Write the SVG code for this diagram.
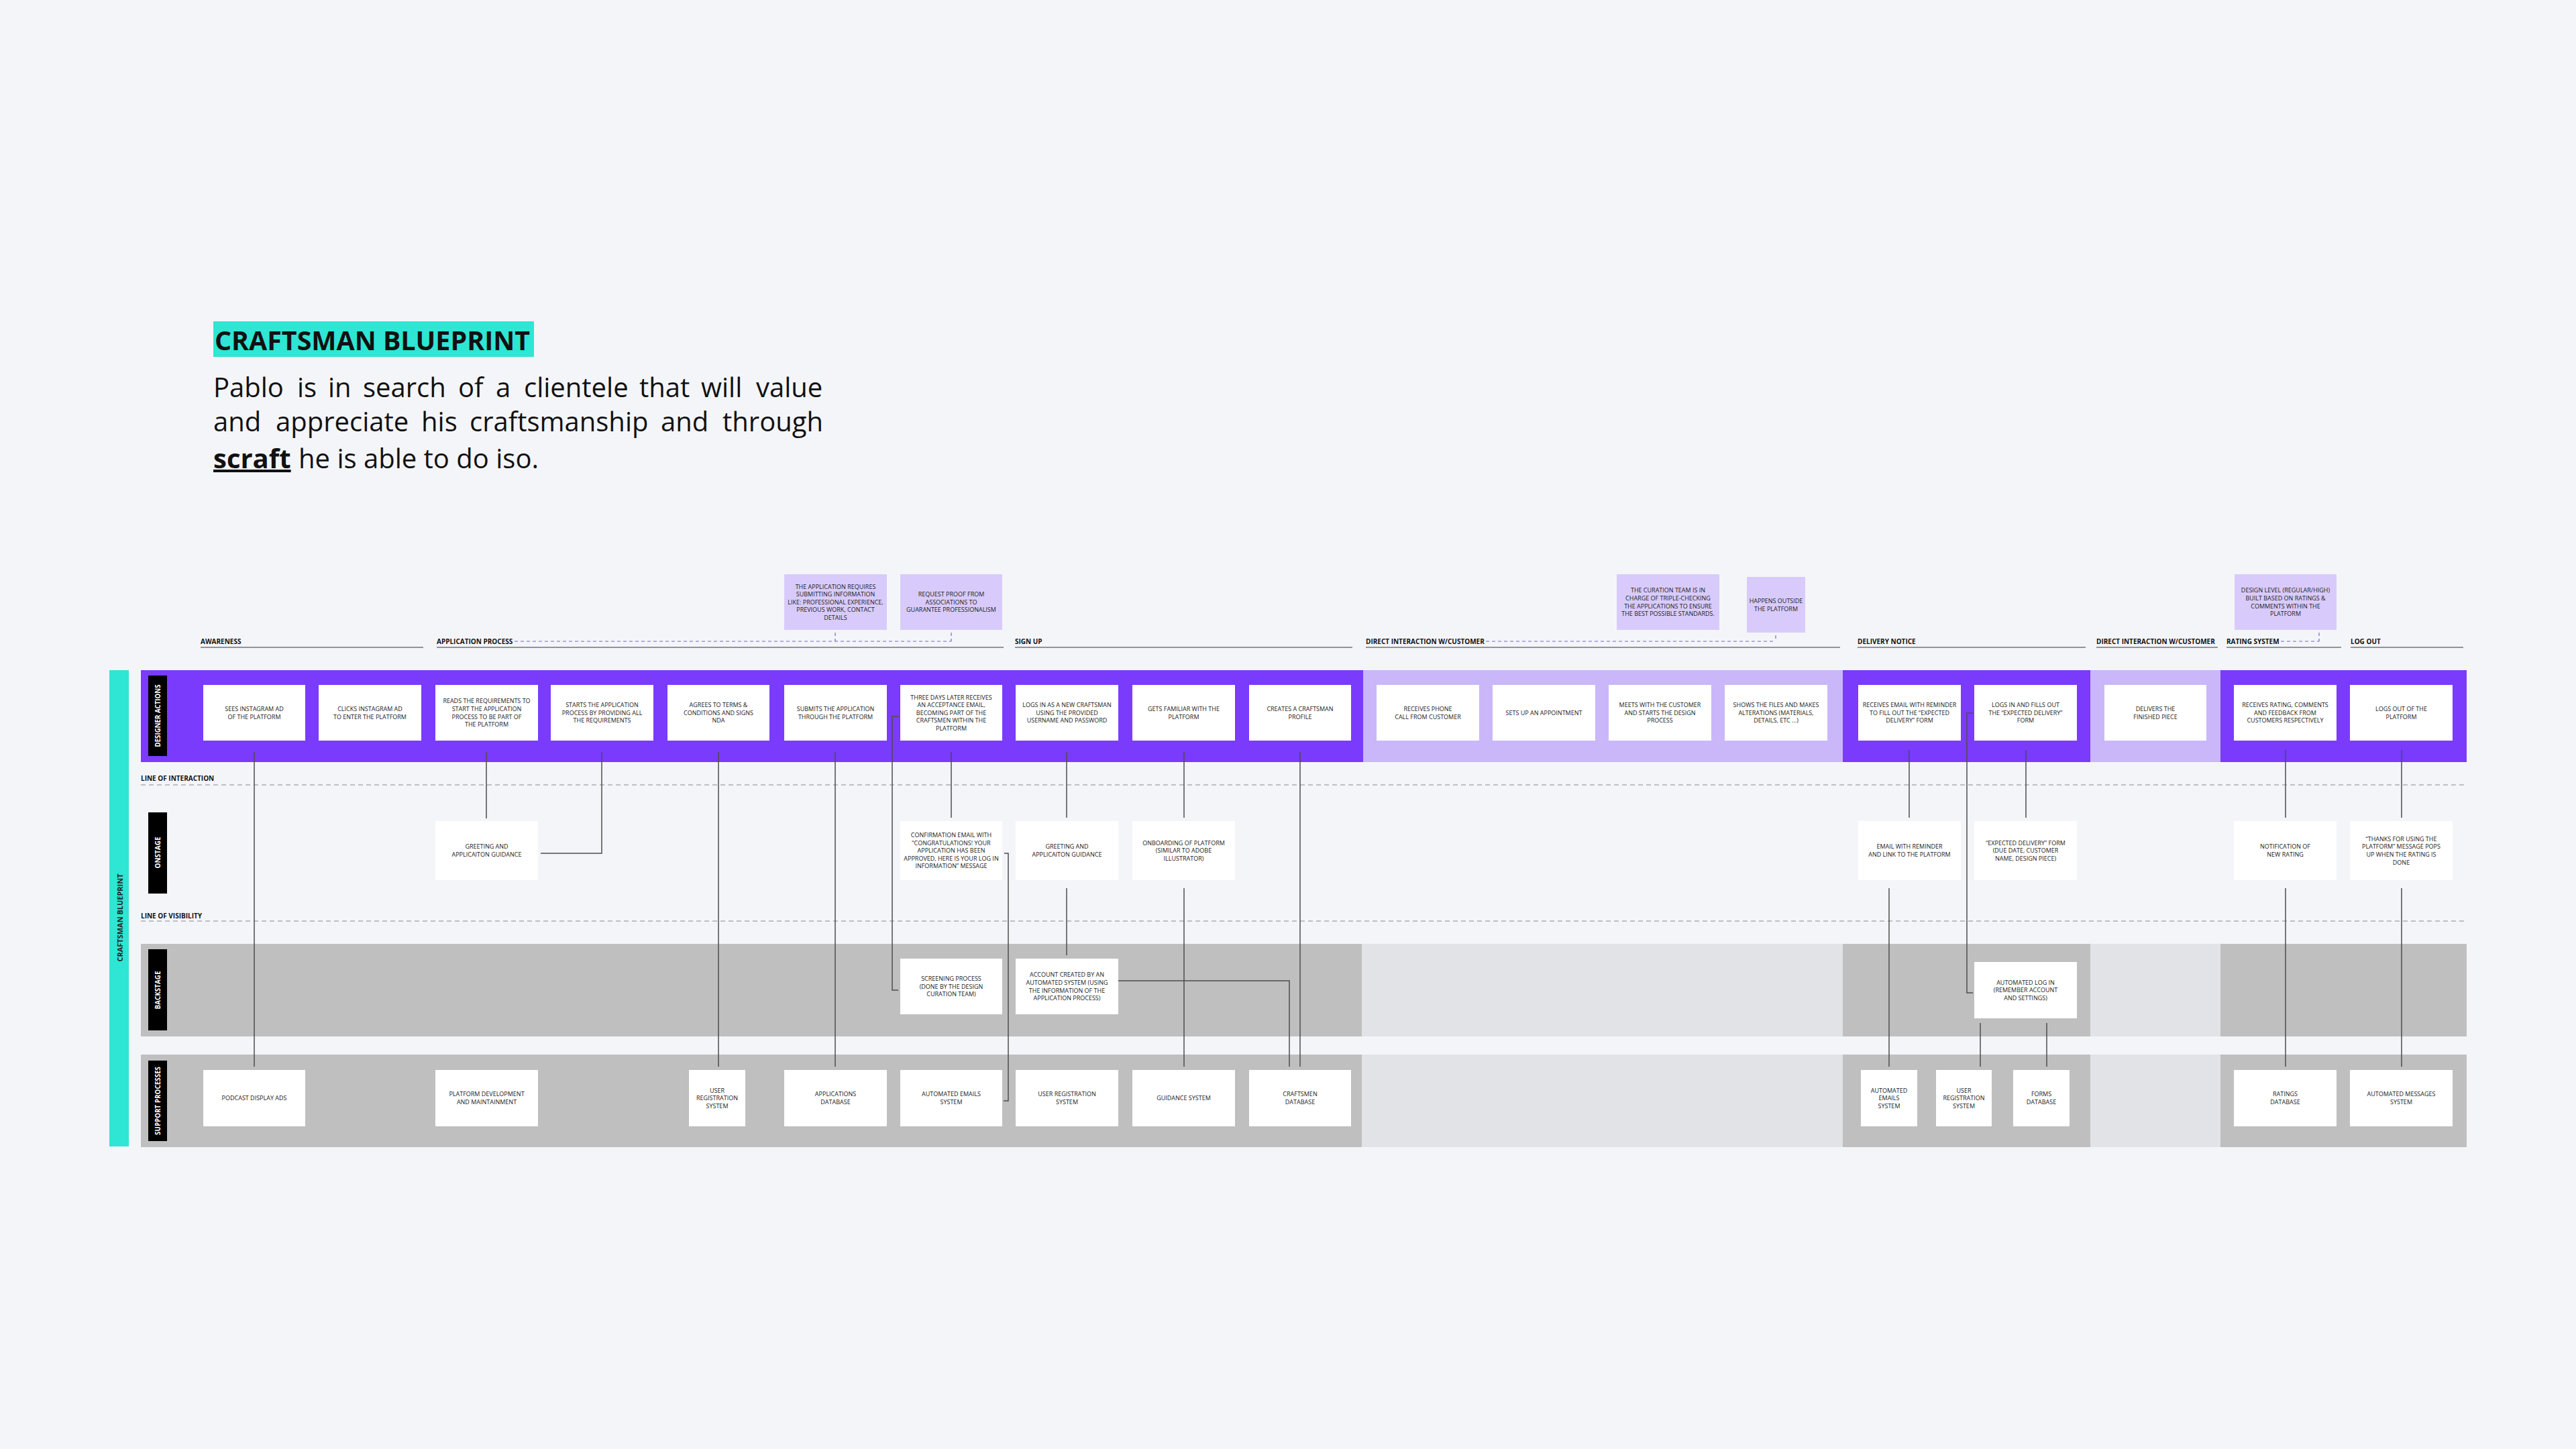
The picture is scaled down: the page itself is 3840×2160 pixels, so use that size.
<svg xmlns="http://www.w3.org/2000/svg" width="3840" height="2160" viewBox="0 0 3840 2160">
<style>
.bg{fill:#f4f5f9}
.bx{fill:#ffffff}
.note{fill:#d8cbfb}
.t{font-family:'Open Sans','Noto Sans','Liberation Sans',sans-serif;font-size:9px;fill:#222;text-anchor:middle}
.stage{font-family:'Open Sans','Noto Sans','Liberation Sans',sans-serif;font-size:10px;font-weight:bold;fill:#111}
.lane{font-family:'Open Sans','Noto Sans','Liberation Sans',sans-serif;font-size:10.5px;font-weight:bold;fill:#fff;text-anchor:middle}
.ul{stroke:#333;stroke-width:1.2}
.pd{stroke:#7b5cf0;stroke-width:1.2;stroke-dasharray:5 4;fill:none}
.gd{stroke:#8a8a8a;stroke-width:1.2;stroke-dasharray:7 5}
.cn{stroke:#4d4d4d;stroke-width:1.5;fill:none}
.dk{fill:#7a3bfd}
.lt{fill:#c9b7fa}
.gr{fill:#bfbfbf}
.lg{fill:#e2e3e7}
.head{font-family:'Open Sans','Noto Sans','Liberation Sans',sans-serif;font-size:40px;fill:#111}
</style>
<rect class="bg" x="0" y="0" width="3840" height="2160"/>

<g id="header">
<rect x="318" y="479" width="478" height="53" fill="#2ee6d3"/>
<text class="head" x="320" y="522" font-weight="bold" textLength="470" lengthAdjust="spacingAndGlyphs">CRAFTSMAN BLUEPRINT</text>
<text class="head" y="592"><tspan x="318">Pablo</tspan><tspan x="443">is</tspan><tspan x="489">in</tspan><tspan x="541">search</tspan><tspan x="683">of</tspan><tspan x="739">a</tspan><tspan x="781">clientele</tspan><tspan x="953">that</tspan><tspan x="1045">will</tspan><tspan x="1127">value</tspan></text>
<text class="head" y="643"><tspan x="318">and</tspan><tspan x="411">appreciate</tspan><tspan x="628">his</tspan><tspan x="700">craftsmanship</tspan><tspan x="985">and</tspan><tspan x="1077">through</tspan></text>
<text class="head" y="698"><tspan x="318" font-weight="bold" text-decoration="underline">scraft</tspan><tspan x="445">he is able to do iso.</tspan></text>
</g>

<g id="lanes">
<rect x="163" y="999" width="29" height="710" fill="#2ee6d3"/>
<text x="179" y="1372" transform="rotate(-90 179 1368)" font-family="'Open Sans','Noto Sans',sans-serif" font-size="11" font-weight="bold" fill="#222" text-anchor="middle" textLength="131" lengthAdjust="spacingAndGlyphs">CRAFTSMAN BLUEPRINT</text>
<rect class="dk" x="210" y="999" width="1822" height="137"/>
<rect class="lt" x="2032" y="999" width="715" height="137"/>
<rect class="dk" x="2747" y="999" width="369" height="137"/>
<rect class="lt" x="3116" y="999" width="194" height="137"/>
<rect class="dk" x="3310" y="999" width="367" height="137"/>
<rect class="gr" x="210" y="1407" width="1820" height="138"/>
<rect class="lg" x="2030" y="1407" width="717" height="138"/>
<rect class="gr" x="2747" y="1407" width="369" height="138"/>
<rect class="lg" x="3116" y="1407" width="194" height="138"/>
<rect class="gr" x="3310" y="1407" width="367" height="138"/>
<rect class="gr" x="210" y="1572" width="1820" height="138"/>
<rect class="lg" x="2030" y="1572" width="717" height="138"/>
<rect class="gr" x="2747" y="1572" width="369" height="138"/>
<rect class="lg" x="3116" y="1572" width="194" height="138"/>
<rect class="gr" x="3310" y="1572" width="367" height="138"/>
<rect x="221" y="1007" width="28" height="120" fill="#000"/>
<rect x="221" y="1211" width="28" height="121" fill="#000"/>
<rect x="221" y="1415" width="28" height="121" fill="#000"/>
<rect x="221" y="1581" width="28" height="120" fill="#000"/>
<text class="lane" x="235" y="1071" transform="rotate(-90 235 1067)" textLength="93" lengthAdjust="spacingAndGlyphs">DESIGNER ACTIONS</text>
<text class="lane" x="235" y="1275" transform="rotate(-90 235 1271)" textLength="47" lengthAdjust="spacingAndGlyphs">ONSTAGE</text>
<text class="lane" x="235" y="1480" transform="rotate(-90 235 1476)" textLength="57" lengthAdjust="spacingAndGlyphs">BACKSTAGE</text>
<text class="lane" x="235" y="1645" transform="rotate(-90 235 1641)" textLength="102" lengthAdjust="spacingAndGlyphs">SUPPORT PROCESSES</text>
<text class="stage" x="210" y="1164" font-size="9.5">LINE OF INTERACTION</text>
<line class="gd" x1="210" y1="1170" x2="3677" y2="1170"/>
<text class="stage" x="210" y="1369" font-size="9.5">LINE OF VISIBILITY</text>
<line class="gd" x1="210" y1="1373" x2="3677" y2="1373"/>
</g>

<g id="stages">
<text class="stage" x="299" y="960">AWARENESS</text><line class="ul" x1="299" y1="965" x2="631" y2="965"/>
<text class="stage" x="651" y="960">APPLICATION PROCESS</text><line class="ul" x1="651" y1="965" x2="1496" y2="965"/>
<text class="stage" x="1513" y="960">SIGN UP</text><line class="ul" x1="1513" y1="965" x2="2016" y2="965"/>
<text class="stage" x="2036" y="960">DIRECT INTERACTION W/CUSTOMER</text><line class="ul" x1="2036" y1="965" x2="2743" y2="965"/>
<text class="stage" x="2769" y="960">DELIVERY NOTICE</text><line class="ul" x1="2769" y1="965" x2="3109" y2="965"/>
<text class="stage" x="3125" y="960">DIRECT INTERACTION W/CUSTOMER</text><line class="ul" x1="3125" y1="965" x2="3306" y2="965"/>
<text class="stage" x="3319" y="960">RATING SYSTEM</text><line class="ul" x1="3319" y1="965" x2="3490" y2="965"/>
<text class="stage" x="3504" y="960">LOG OUT</text><line class="ul" x1="3504" y1="965" x2="3672" y2="965"/>
</g>

<g id="notes">
<g id="note1"><rect class="note" x="1169" y="856" width="153" height="83"/><text class="t" x="1245.5" y="877.5"><tspan x="1245.5">THE APPLICATION REQUIRES</tspan><tspan x="1245.5" dy="11.6">SUBMITTING INFORMATION</tspan><tspan x="1245.5" dy="11.6">LIKE: PROFESSIONAL EXPERIENCE,</tspan><tspan x="1245.5" dy="11.6">PREVIOUS WORK, CONTACT</tspan><tspan x="1245.5" dy="11.6">DETAILS</tspan></text></g>
<g id="note2"><rect class="note" x="1342" y="856" width="152" height="83"/><text class="t" x="1418" y="889.1"><tspan x="1418">REQUEST PROOF FROM</tspan><tspan x="1418" dy="11.6">ASSOCIATIONS TO</tspan><tspan x="1418" dy="11.6">GUARANTEE PROFESSIONALISM</tspan></text></g>
<g id="note3"><rect class="note" x="2410" y="856" width="153" height="83"/><text class="t" x="2486.5" y="883.3"><tspan x="2486.5">THE CURATION TEAM IS IN</tspan><tspan x="2486.5" dy="11.6">CHARGE OF TRIPLE-CHECKING</tspan><tspan x="2486.5" dy="11.6">THE APPLICATIONS TO ENSURE</tspan><tspan x="2486.5" dy="11.6">THE BEST POSSIBLE STANDARDS.</tspan></text></g>
<g id="note4"><rect class="note" x="2604" y="860" width="87" height="83"/><text class="t" x="2647.5" y="898.9" font-size="8"><tspan x="2647.5">HAPPENS OUTSIDE</tspan><tspan x="2647.5" dy="11.6">THE PLATFORM</tspan></text></g>
<g id="note5"><rect class="note" x="3331" y="856" width="152" height="83"/><text class="t" x="3407" y="883.3"><tspan x="3407">DESIGN LEVEL (REGULAR/HIGH)</tspan><tspan x="3407" dy="11.6">BUILT BASED ON RATINGS &amp;</tspan><tspan x="3407" dy="11.6">COMMENTS WITHIN THE</tspan><tspan x="3407" dy="11.6">PLATFORM</tspan></text></g>
<path class="pd" d="M767 956 H1418 M1245 943 V956 M1418 943 V956 M2215 956 H2647 M2647 947 V956 M3400 956 H3457 M3457 943 V956"/>
</g>

<g id="connectors">
<path class="cn" d="M379 1121 V1590"/>
<path class="cn" d="M725 1121 V1220"/>
<path class="cn" d="M897 1121 V1272 H806"/>
<path class="cn" d="M1071 1121 V1590"/>
<path class="cn" d="M1245 1121 V1590"/>
<path class="cn" d="M1418 1121 V1219"/>
<path class="cn" d="M1340 1068 H1330 V1476 H1339"/>
<path class="cn" d="M1497 1272 H1503 V1641 H1496"/>
<path class="cn" d="M1590 1121 V1219"/>
<path class="cn" d="M1590 1324 V1424"/>
<path class="cn" d="M1765 1121 V1219"/>
<path class="cn" d="M1765 1324 V1590"/>
<path class="cn" d="M1938 1121 V1590"/>
<path class="cn" d="M1667 1462 H1922 V1590"/>
<path class="cn" d="M2846 1118 V1219"/>
<path class="cn" d="M3020 1118 V1219"/>
<path class="cn" d="M2941 1063 H2932 V1480 H2941"/>
<path class="cn" d="M2816 1324 V1590"/>
<path class="cn" d="M2952 1525 V1590"/>
<path class="cn" d="M3051 1525 V1590"/>
<path class="cn" d="M3407 1118 V1219"/>
<path class="cn" d="M3407 1324 V1590"/>
<path class="cn" d="M3580 1118 V1219"/>
<path class="cn" d="M3580 1324 V1590"/>
</g>

<g id="actions">
<g id="a1"><rect class="bx" x="303" y="1021" width="152" height="83"/><text class="t" x="379" y="1059.9"><tspan x="379">SEES INSTAGRAM AD</tspan><tspan x="379" dy="11.6">OF THE PLATFORM</tspan></text></g>
<g id="a2"><rect class="bx" x="475" y="1021" width="153" height="83"/><text class="t" x="551.5" y="1059.9"><tspan x="551.5">CLICKS INSTAGRAM AD</tspan><tspan x="551.5" dy="11.6">TO ENTER THE PLATFORM</tspan></text></g>
<g id="a3"><rect class="bx" x="649" y="1021" width="153" height="83"/><text class="t" x="725.5" y="1048.3"><tspan x="725.5">READS THE REQUIREMENTS TO</tspan><tspan x="725.5" dy="11.6">START THE APPLICATION</tspan><tspan x="725.5" dy="11.6">PROCESS TO BE PART OF</tspan><tspan x="725.5" dy="11.6">THE PLATFORM</tspan></text></g>
<g id="a4"><rect class="bx" x="821" y="1021" width="153" height="83"/><text class="t" x="897.5" y="1054.1"><tspan x="897.5">STARTS THE APPLICATION</tspan><tspan x="897.5" dy="11.6">PROCESS BY PROVIDING ALL</tspan><tspan x="897.5" dy="11.6">THE REQUIREMENTS</tspan></text></g>
<g id="a5"><rect class="bx" x="995" y="1021" width="152" height="83"/><text class="t" x="1071" y="1054.1"><tspan x="1071">AGREES TO TERMS &amp;</tspan><tspan x="1071" dy="11.6">CONDITIONS AND SIGNS</tspan><tspan x="1071" dy="11.6">NDA</tspan></text></g>
<g id="a6"><rect class="bx" x="1169" y="1021" width="153" height="83"/><text class="t" x="1245.5" y="1059.9"><tspan x="1245.5">SUBMITS THE APPLICATION</tspan><tspan x="1245.5" dy="11.6">THROUGH THE PLATFORM</tspan></text></g>
<g id="a7"><rect class="bx" x="1342" y="1021" width="152" height="83"/><text class="t" x="1418" y="1042.5"><tspan x="1418">THREE DAYS LATER RECEIVES</tspan><tspan x="1418" dy="11.6">AN ACCEPTANCE EMAIL,</tspan><tspan x="1418" dy="11.6">BECOMING PART OF THE</tspan><tspan x="1418" dy="11.6">CRAFTSMEN WITHIN THE</tspan><tspan x="1418" dy="11.6">PLATFORM</tspan></text></g>
<g id="a8"><rect class="bx" x="1514" y="1021" width="153" height="83"/><text class="t" x="1590.5" y="1054.1"><tspan x="1590.5">LOGS IN AS A NEW CRAFTSMAN</tspan><tspan x="1590.5" dy="11.6">USING THE PROVIDED</tspan><tspan x="1590.5" dy="11.6">USERNAME AND PASSWORD</tspan></text></g>
<g id="a9"><rect class="bx" x="1688" y="1021" width="153" height="83"/><text class="t" x="1764.5" y="1059.9"><tspan x="1764.5">GETS FAMILIAR WITH THE</tspan><tspan x="1764.5" dy="11.6">PLATFORM</tspan></text></g>
<g id="a10"><rect class="bx" x="1862" y="1021" width="152" height="83"/><text class="t" x="1938" y="1059.9"><tspan x="1938">CREATES A CRAFTSMAN</tspan><tspan x="1938" dy="11.6">PROFILE</tspan></text></g>
<g id="a11"><rect class="bx" x="2052" y="1021" width="153" height="83"/><text class="t" x="2128.5" y="1059.9"><tspan x="2128.5">RECEIVES PHONE</tspan><tspan x="2128.5" dy="11.6">CALL FROM CUSTOMER</tspan></text></g>
<g id="a12"><rect class="bx" x="2225" y="1021" width="153" height="83"/><text class="t" x="2301.5" y="1065.7">SETS UP AN APPOINTMENT</text></g>
<g id="a13"><rect class="bx" x="2398" y="1021" width="153" height="83"/><text class="t" x="2474.5" y="1054.1"><tspan x="2474.5">MEETS WITH THE CUSTOMER</tspan><tspan x="2474.5" dy="11.6">AND STARTS THE DESIGN</tspan><tspan x="2474.5" dy="11.6">PROCESS</tspan></text></g>
<g id="a14"><rect class="bx" x="2571" y="1021" width="153" height="83"/><text class="t" x="2647.5" y="1054.1"><tspan x="2647.5">SHOWS THE FILES AND MAKES</tspan><tspan x="2647.5" dy="11.6">ALTERATIONS (MATERIALS,</tspan><tspan x="2647.5" dy="11.6">DETAILS, ETC ...)</tspan></text></g>
<g id="a15"><rect class="bx" x="2770" y="1021" width="153" height="83"/><text class="t" x="2846.5" y="1054.1"><tspan x="2846.5">RECEIVES EMAIL WITH REMINDER</tspan><tspan x="2846.5" dy="11.6">TO FILL OUT THE “EXPECTED</tspan><tspan x="2846.5" dy="11.6">DELIVERY” FORM</tspan></text></g>
<g id="a16"><rect class="bx" x="2943" y="1021" width="153" height="83"/><text class="t" x="3019.5" y="1054.1"><tspan x="3019.5">LOGS IN AND FILLS OUT</tspan><tspan x="3019.5" dy="11.6">THE “EXPECTED DELIVERY”</tspan><tspan x="3019.5" dy="11.6">FORM</tspan></text></g>
<g id="a17"><rect class="bx" x="3137" y="1021" width="152" height="83"/><text class="t" x="3213" y="1059.9"><tspan x="3213">DELIVERS THE</tspan><tspan x="3213" dy="11.6">FINISHED PIECE</tspan></text></g>
<g id="a18"><rect class="bx" x="3330" y="1021" width="153" height="83"/><text class="t" x="3406.5" y="1054.1"><tspan x="3406.5">RECEIVES RATING, COMMENTS</tspan><tspan x="3406.5" dy="11.6">AND FEEDBACK FROM</tspan><tspan x="3406.5" dy="11.6">CUSTOMERS RESPECTIVELY</tspan></text></g>
<g id="a19"><rect class="bx" x="3503" y="1021" width="153" height="83"/><text class="t" x="3579.5" y="1059.9"><tspan x="3579.5">LOGS OUT OF THE</tspan><tspan x="3579.5" dy="11.6">PLATFORM</tspan></text></g>
</g>

<g id="onstage">
<g id="o1"><rect class="bx" x="649" y="1224" width="153" height="88"/><text class="t" x="725.5" y="1265.4"><tspan x="725.5">GREETING AND</tspan><tspan x="725.5" dy="11.6">APPLICAITON GUIDANCE</tspan></text></g>
<g id="o2"><rect class="bx" x="1342" y="1224" width="152" height="88"/><text class="t" x="1418" y="1248"><tspan x="1418">CONFIRMATION EMAIL WITH</tspan><tspan x="1418" dy="11.6">“CONGRATULATIONS! YOUR</tspan><tspan x="1418" dy="11.6">APPLICATION HAS BEEN</tspan><tspan x="1418" dy="11.6">APPROVED, HERE IS YOUR LOG IN</tspan><tspan x="1418" dy="11.6">INFORMATION” MESSAGE</tspan></text></g>
<g id="o3"><rect class="bx" x="1514" y="1224" width="153" height="88"/><text class="t" x="1590.5" y="1265.4"><tspan x="1590.5">GREETING AND</tspan><tspan x="1590.5" dy="11.6">APPLICAITON GUIDANCE</tspan></text></g>
<g id="o4"><rect class="bx" x="1688" y="1224" width="153" height="88"/><text class="t" x="1764.5" y="1259.6"><tspan x="1764.5">ONBOARDING OF PLATFORM</tspan><tspan x="1764.5" dy="11.6">(SIMILAR TO ADOBE</tspan><tspan x="1764.5" dy="11.6">ILLUSTRATOR)</tspan></text></g>
<g id="o5"><rect class="bx" x="2770" y="1224" width="153" height="88"/><text class="t" x="2846.5" y="1265.4"><tspan x="2846.5">EMAIL WITH REMINDER</tspan><tspan x="2846.5" dy="11.6">AND LINK TO THE PLATFORM</tspan></text></g>
<g id="o6"><rect class="bx" x="2943" y="1224" width="153" height="88"/><text class="t" x="3019.5" y="1259.6"><tspan x="3019.5">“EXPECTED DELIVERY” FORM</tspan><tspan x="3019.5" dy="11.6">(DUE DATE, CUSTOMER</tspan><tspan x="3019.5" dy="11.6">NAME, DESIGN PIECE)</tspan></text></g>
<g id="o7"><rect class="bx" x="3330" y="1224" width="153" height="88"/><text class="t" x="3406.5" y="1265.4"><tspan x="3406.5">NOTIFICATION OF</tspan><tspan x="3406.5" dy="11.6">NEW RATING</tspan></text></g>
<g id="o8"><rect class="bx" x="3503" y="1224" width="153" height="88"/><text class="t" x="3579.5" y="1253.8"><tspan x="3579.5">“THANKS FOR USING THE</tspan><tspan x="3579.5" dy="11.6">PLATFORM” MESSAGE POPS</tspan><tspan x="3579.5" dy="11.6">UP WHEN THE RATING IS</tspan><tspan x="3579.5" dy="11.6">DONE</tspan></text></g>
</g>

<g id="backstage">
<g id="b1"><rect class="bx" x="1342" y="1429" width="152" height="83"/><text class="t" x="1418" y="1462.1"><tspan x="1418">SCREENING PROCESS</tspan><tspan x="1418" dy="11.6">(DONE BY THE DESIGN</tspan><tspan x="1418" dy="11.6">CURATION TEAM)</tspan></text></g>
<g id="b2"><rect class="bx" x="1514" y="1429" width="153" height="83"/><text class="t" x="1590.5" y="1456.3"><tspan x="1590.5">ACCOUNT CREATED BY AN</tspan><tspan x="1590.5" dy="11.6">AUTOMATED SYSTEM (USING</tspan><tspan x="1590.5" dy="11.6">THE INFORMATION OF THE</tspan><tspan x="1590.5" dy="11.6">APPLICATION PROCESS)</tspan></text></g>
<g id="b3"><rect class="bx" x="2943" y="1434" width="153" height="84"/><text class="t" x="3019.5" y="1467.6"><tspan x="3019.5">AUTOMATED LOG IN</tspan><tspan x="3019.5" dy="11.6">(REMEMBER ACCOUNT</tspan><tspan x="3019.5" dy="11.6">AND SETTINGS)</tspan></text></g>
</g>

<g id="support">
<g id="s1"><rect class="bx" x="303" y="1595" width="152" height="84"/><text class="t" x="379" y="1640.2">PODCAST DISPLAY ADS</text></g>
<g id="s2"><rect class="bx" x="649" y="1595" width="153" height="84"/><text class="t" x="725.5" y="1634.4"><tspan x="725.5">PLATFORM DEVELOPMENT</tspan><tspan x="725.5" dy="11.6">AND MAINTAINMENT</tspan></text></g>
<g id="s3"><rect class="bx" x="1027" y="1595" width="84" height="84"/><text class="t" x="1069" y="1628.6"><tspan x="1069">USER</tspan><tspan x="1069" dy="11.6">REGISTRATION</tspan><tspan x="1069" dy="11.6">SYSTEM</tspan></text></g>
<g id="s4"><rect class="bx" x="1169" y="1595" width="153" height="84"/><text class="t" x="1245.5" y="1634.4"><tspan x="1245.5">APPLICATIONS</tspan><tspan x="1245.5" dy="11.6">DATABASE</tspan></text></g>
<g id="s5"><rect class="bx" x="1342" y="1595" width="152" height="84"/><text class="t" x="1418" y="1634.4"><tspan x="1418">AUTOMATED EMAILS</tspan><tspan x="1418" dy="11.6">SYSTEM</tspan></text></g>
<g id="s6"><rect class="bx" x="1514" y="1595" width="153" height="84"/><text class="t" x="1590.5" y="1634.4"><tspan x="1590.5">USER REGISTRATION</tspan><tspan x="1590.5" dy="11.6">SYSTEM</tspan></text></g>
<g id="s7"><rect class="bx" x="1688" y="1595" width="153" height="84"/><text class="t" x="1764.5" y="1640.2">GUIDANCE SYSTEM</text></g>
<g id="s8"><rect class="bx" x="1862" y="1595" width="152" height="84"/><text class="t" x="1938" y="1634.4"><tspan x="1938">CRAFTSMEN</tspan><tspan x="1938" dy="11.6">DATABASE</tspan></text></g>
<g id="s9"><rect class="bx" x="2774" y="1595" width="84" height="84"/><text class="t" x="2816" y="1628.6"><tspan x="2816">AUTOMATED</tspan><tspan x="2816" dy="11.6">EMAILS</tspan><tspan x="2816" dy="11.6">SYSTEM</tspan></text></g>
<g id="s10"><rect class="bx" x="2886" y="1595" width="83" height="84"/><text class="t" x="2927.5" y="1628.6"><tspan x="2927.5">USER</tspan><tspan x="2927.5" dy="11.6">REGISTRATION</tspan><tspan x="2927.5" dy="11.6">SYSTEM</tspan></text></g>
<g id="s11"><rect class="bx" x="3001" y="1595" width="84" height="84"/><text class="t" x="3043" y="1634.4"><tspan x="3043">FORMS</tspan><tspan x="3043" dy="11.6">DATABASE</tspan></text></g>
<g id="s12"><rect class="bx" x="3330" y="1595" width="153" height="84"/><text class="t" x="3406.5" y="1634.4"><tspan x="3406.5">RATINGS</tspan><tspan x="3406.5" dy="11.6">DATABASE</tspan></text></g>
<g id="s13"><rect class="bx" x="3503" y="1595" width="153" height="84"/><text class="t" x="3579.5" y="1634.4"><tspan x="3579.5">AUTOMATED MESSAGES</tspan><tspan x="3579.5" dy="11.6">SYSTEM</tspan></text></g>
</g>
</svg>
